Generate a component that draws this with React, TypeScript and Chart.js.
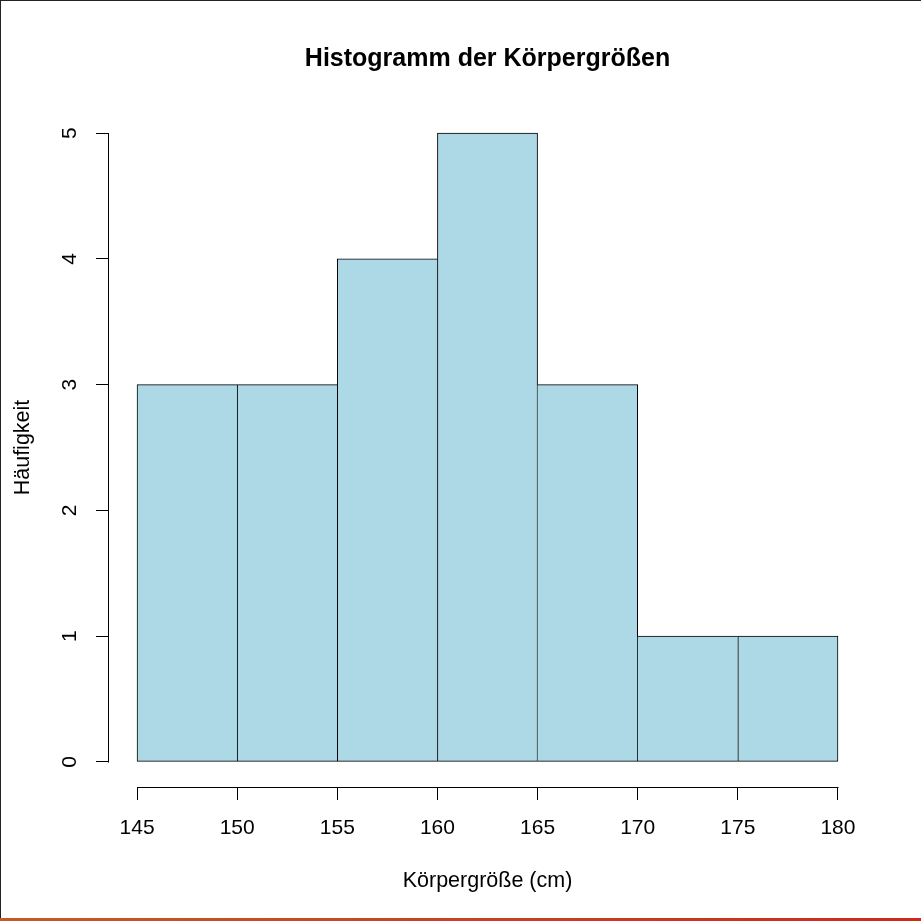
import React, { useEffect, useRef } from "react";
import { Chart, registerables } from "chart.js";

Chart.register(...registerables);

const breaks: number[] = [145, 150, 155, 160, 165, 170, 175, 180];
const counts: number[] = [3, 3, 4, 5, 3, 1, 1];
const yTicks: number[] = [0, 1, 2, 3, 4, 5];
const titleText = "Histogramm der Körpergrößen";
const xLabel = "Körpergröße (cm)";
const yLabel = "Häufigkeit";

const FONT = "'Liberation Sans', Arial, Helvetica, sans-serif";

export default function App() {
  const ref = useRef<HTMLCanvasElement | null>(null);

  useEffect(() => {
    const canvas = ref.current;
    if (!canvas) return;
    const xRange = breaks[breaks.length - 1] - breaks[0];
    const yMaxVal = yTicks[yTicks.length - 1];
    const points = counts.map((c, i) => ({ x: (breaks[i] + breaks[i + 1]) / 2, y: c }));
    const last = counts.length - 1;

    // shared edges between neighbouring bars are drawn once, by the taller bar
    const edgeWidth = (c: any) => {
      const i = c.dataIndex;
      const left = i === 0 || counts[i - 1] <= counts[i] ? 1 : 0;
      const right = i === last || counts[i + 1] < counts[i] ? 1 : 0;
      return { top: 1, bottom: 1, left, right };
    };

    const axisLines = {
      id: "axisLines",
      afterLayout(chart: any) {
        const tb = chart.titleBlock;
        if (tb) {
          tb.left = chart.chartArea.left;
          tb.right = chart.chartArea.right;
        }
      },
      afterDraw(chart: any) {
        const { ctx, chartArea } = chart;
        const x = chart.scales.x;
        const y = chart.scales.y;
        ctx.save();
        ctx.strokeStyle = "#000";
        ctx.lineWidth = 1;
        ctx.beginPath();
        const yb = Math.round(chartArea.bottom) + 0.5;
        ctx.moveTo(Math.round(x.getPixelForValue(breaks[0])) + 0.5, yb);
        ctx.lineTo(Math.round(x.getPixelForValue(breaks[breaks.length - 1])) + 0.5, yb);
        const xl = Math.round(chartArea.left) - 0.5;
        ctx.moveTo(xl, Math.round(y.getPixelForValue(yTicks[0])) + 0.5);
        ctx.lineTo(xl, Math.round(y.getPixelForValue(yTicks[yTicks.length - 1])) + 0.5);
        ctx.stroke();
        ctx.restore();
      },
    };

    const chart = new Chart(canvas, {
      type: "bar",
      data: {
        datasets: [
          {
            data: points as any,
            backgroundColor: "#ADD8E6",
            borderColor: "#000",
            borderWidth: edgeWidth as any,
            borderSkipped: false,
            barPercentage: 1,
            categoryPercentage: 1,
          },
        ],
      },
      options: {
        animation: false,
        responsive: false,
        layout: { padding: { left: 0, top: 0, bottom: 0, right: 55 } },
        plugins: {
          legend: { display: false },
          tooltip: { enabled: false },
          title: {
            display: true,
            text: titleText,
            color: "#000",
            font: { family: FONT, size: 25, weight: "bold" },
            padding: { top: 44, bottom: 34 },
          },
        },
        scales: {
          x: {
            type: "linear",
            offset: false,
            min: breaks[0] - 0.04 * xRange,
            max: breaks[breaks.length - 1] + 0.04 * xRange,
            afterBuildTicks: (s: any) => {
              s.ticks = breaks.map((v) => ({ value: v }));
            },
            afterFit: (s: any) => {
              s.height = 134;
            },
            grid: { offset: false, drawOnChartArea: false, drawTicks: true, tickLength: 13, color: "#000", lineWidth: 1 },
            border: { display: false },
            ticks: {
              color: "#000",
              font: { family: FONT, size: 21 },
              padding: 16,
              maxRotation: 0,
              autoSkip: false,
              callback: (v: any) => String(v),
            },
            title: {
              display: true,
              text: xLabel,
              color: "#000",
              font: { family: FONT, size: 21.5 },
              padding: { top: 0, bottom: 27 },
            },
          },
          y: {
            type: "linear",
            min: -0.04 * yMaxVal,
            max: yMaxVal + 0.04 * yMaxVal,
            afterBuildTicks: (s: any) => {
              s.ticks = yTicks.map((v) => ({ value: v }));
            },
            afterFit: (s: any) => {
              s.width = 109;
            },
            grid: { drawOnChartArea: false, drawTicks: true, tickLength: 13, color: "#000", lineWidth: 1 },
            border: { display: false },
            ticks: {
              color: "#000",
              font: { family: FONT, size: 21 },
              padding: 20,
              minRotation: 90,
              maxRotation: 90,
              crossAlign: "center",
              autoSkip: false,
              callback: (v: any) => String(v),
            },
            title: {
              display: true,
              text: yLabel,
              color: "#000",
              font: { family: FONT, size: 21.5 },
              padding: { top: 10, bottom: 0 },
            },
          },
        },
      },
      plugins: [axisLines],
    } as any);

    return () => chart.destroy();
  }, []);

  return (
    <div style={{ position: "fixed", left: 0, top: 0, width: 921, height: 921, background: "#fff" }}>
      <canvas ref={ref} width={921} height={921} style={{ position: "absolute", left: 0, top: 0, width: 921, height: 921 }} />
      <div style={{ position: "absolute", left: 0, top: 0, width: 921, height: 1, background: "#222" }} />
      <div style={{ position: "absolute", left: 0, top: 0, width: 1, height: 921, background: "#222" }} />
      <div
        style={{
          position: "absolute",
          left: 0,
          top: 918,
          width: 921,
          height: 3,
          background: "linear-gradient(to right, #c45a28, #cc2a1e)",
        }}
      />
    </div>
  );
}
